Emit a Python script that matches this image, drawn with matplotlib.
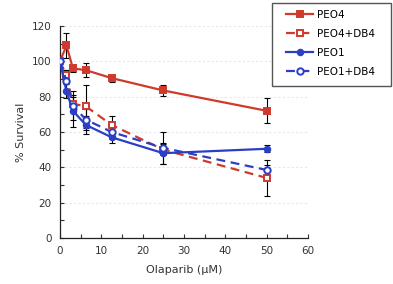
import matplotlib
matplotlib.use("Agg")
import matplotlib.pyplot as plt
from matplotlib.ticker import MultipleLocator
from matplotlib.patches import Rectangle

doses = [0, 1.56, 3.125, 6.25, 12.5, 25, 50]
series_names = ["PEO4", "PEO4+DB4", "PEO1", "PEO1+DB4"]
peo4 = [100, 109, 96, 95, 90.5, 83.5, 72]
peo4_err = [0, 7, 2, 4, 2, 3, 7]
peo4_db4 = [100, 92, 76, 74.5, 64, 50, 34]
peo4_db4_err = [0, 3, 4, 12, 5, 3, 10]
peo1 = [100, 83, 72, 64, 57, 48, 50.5]
peo1_err = [0, 4, 9, 5, 3, 6, 2]
peo1_db4 = [100, 89, 75, 67, 60, 51, 38.5]
peo1_db4_err = [0, 6, 8, 6, 4, 9, 3]

red = "#cf3a2c"
blue = "#2a3fc4"

fig = plt.figure(figsize=(3.93, 2.84), dpi=100)
ax = fig.add_axes([60/393, 1-238/284, 248/393, 212/284])

styles = [
    (peo4, peo4_err, red, "-", "s", red, 5),
    (peo4_db4, peo4_db4_err, red, "--", "s", "white", 5),
    (peo1, peo1_err, blue, "-", "o", blue, 4),
    (peo1_db4, peo1_db4_err, blue, "--", "o", "white", 4.6),
]
for name, (vals, err, col, ls, mk, mfc, ms) in zip(series_names, styles):
    ax.errorbar(doses, vals, yerr=err, fmt="none", ecolor="black", elinewidth=0.8,
                capsize=2.5, capthick=0.8, zorder=2)
    ax.plot(doses, vals, color=col, linestyle=ls, linewidth=1.6, marker=mk,
            markersize=ms, markerfacecolor=mfc, markeredgecolor=col,
            markeredgewidth=1.4, label=name, zorder=3,
            dashes=(4, 2.5) if ls == "--" else (None, None))

ax.set_xlim(0, 60)
ax.set_ylim(0, 120)
ax.xaxis.set_major_locator(MultipleLocator(10))
ax.xaxis.set_minor_locator(MultipleLocator(5))
ax.yaxis.set_major_locator(MultipleLocator(20))
ax.yaxis.set_minor_locator(MultipleLocator(10))
ax.tick_params(which="both", direction="in", labelsize=7.5, colors="#333333", length=3, width=0.8)
ax.tick_params(axis="x", pad=6)
ax.tick_params(axis="y", pad=6)
for s in ["top", "right"]:
    ax.spines[s].set_visible(False)
for s in ["left", "bottom"]:
    ax.spines[s].set_color("#222222")
    ax.spines[s].set_linewidth(0.9)
ax.grid(axis="y", which="major", color="#e8e8e8", linestyle=(0, (2, 2)), linewidth=0.8)
ax.set_axisbelow(True)

ax.set_xlabel("Olaparib (µM)", fontsize=8, color="#333333", labelpad=6)
ax.set_ylabel("% Survival", fontsize=8, color="#333333", labelpad=4)

# legend frame drawn separately
fig.patches.append(Rectangle((272/393, 1-86/284), 119/393, 83/284, transform=fig.transFigure,
                             facecolor="white", edgecolor="#555555", linewidth=1.0, zorder=5))
leg = fig.legend(loc="upper left", bbox_to_anchor=(286/393, 1-10/284),
                 fontsize=7.5, frameon=False, handlelength=2.6,
                 borderpad=0, labelspacing=0.85, handletextpad=0.35, borderaxespad=0)
leg.set_zorder(6)

fig.savefig("out.png", dpi=100)
